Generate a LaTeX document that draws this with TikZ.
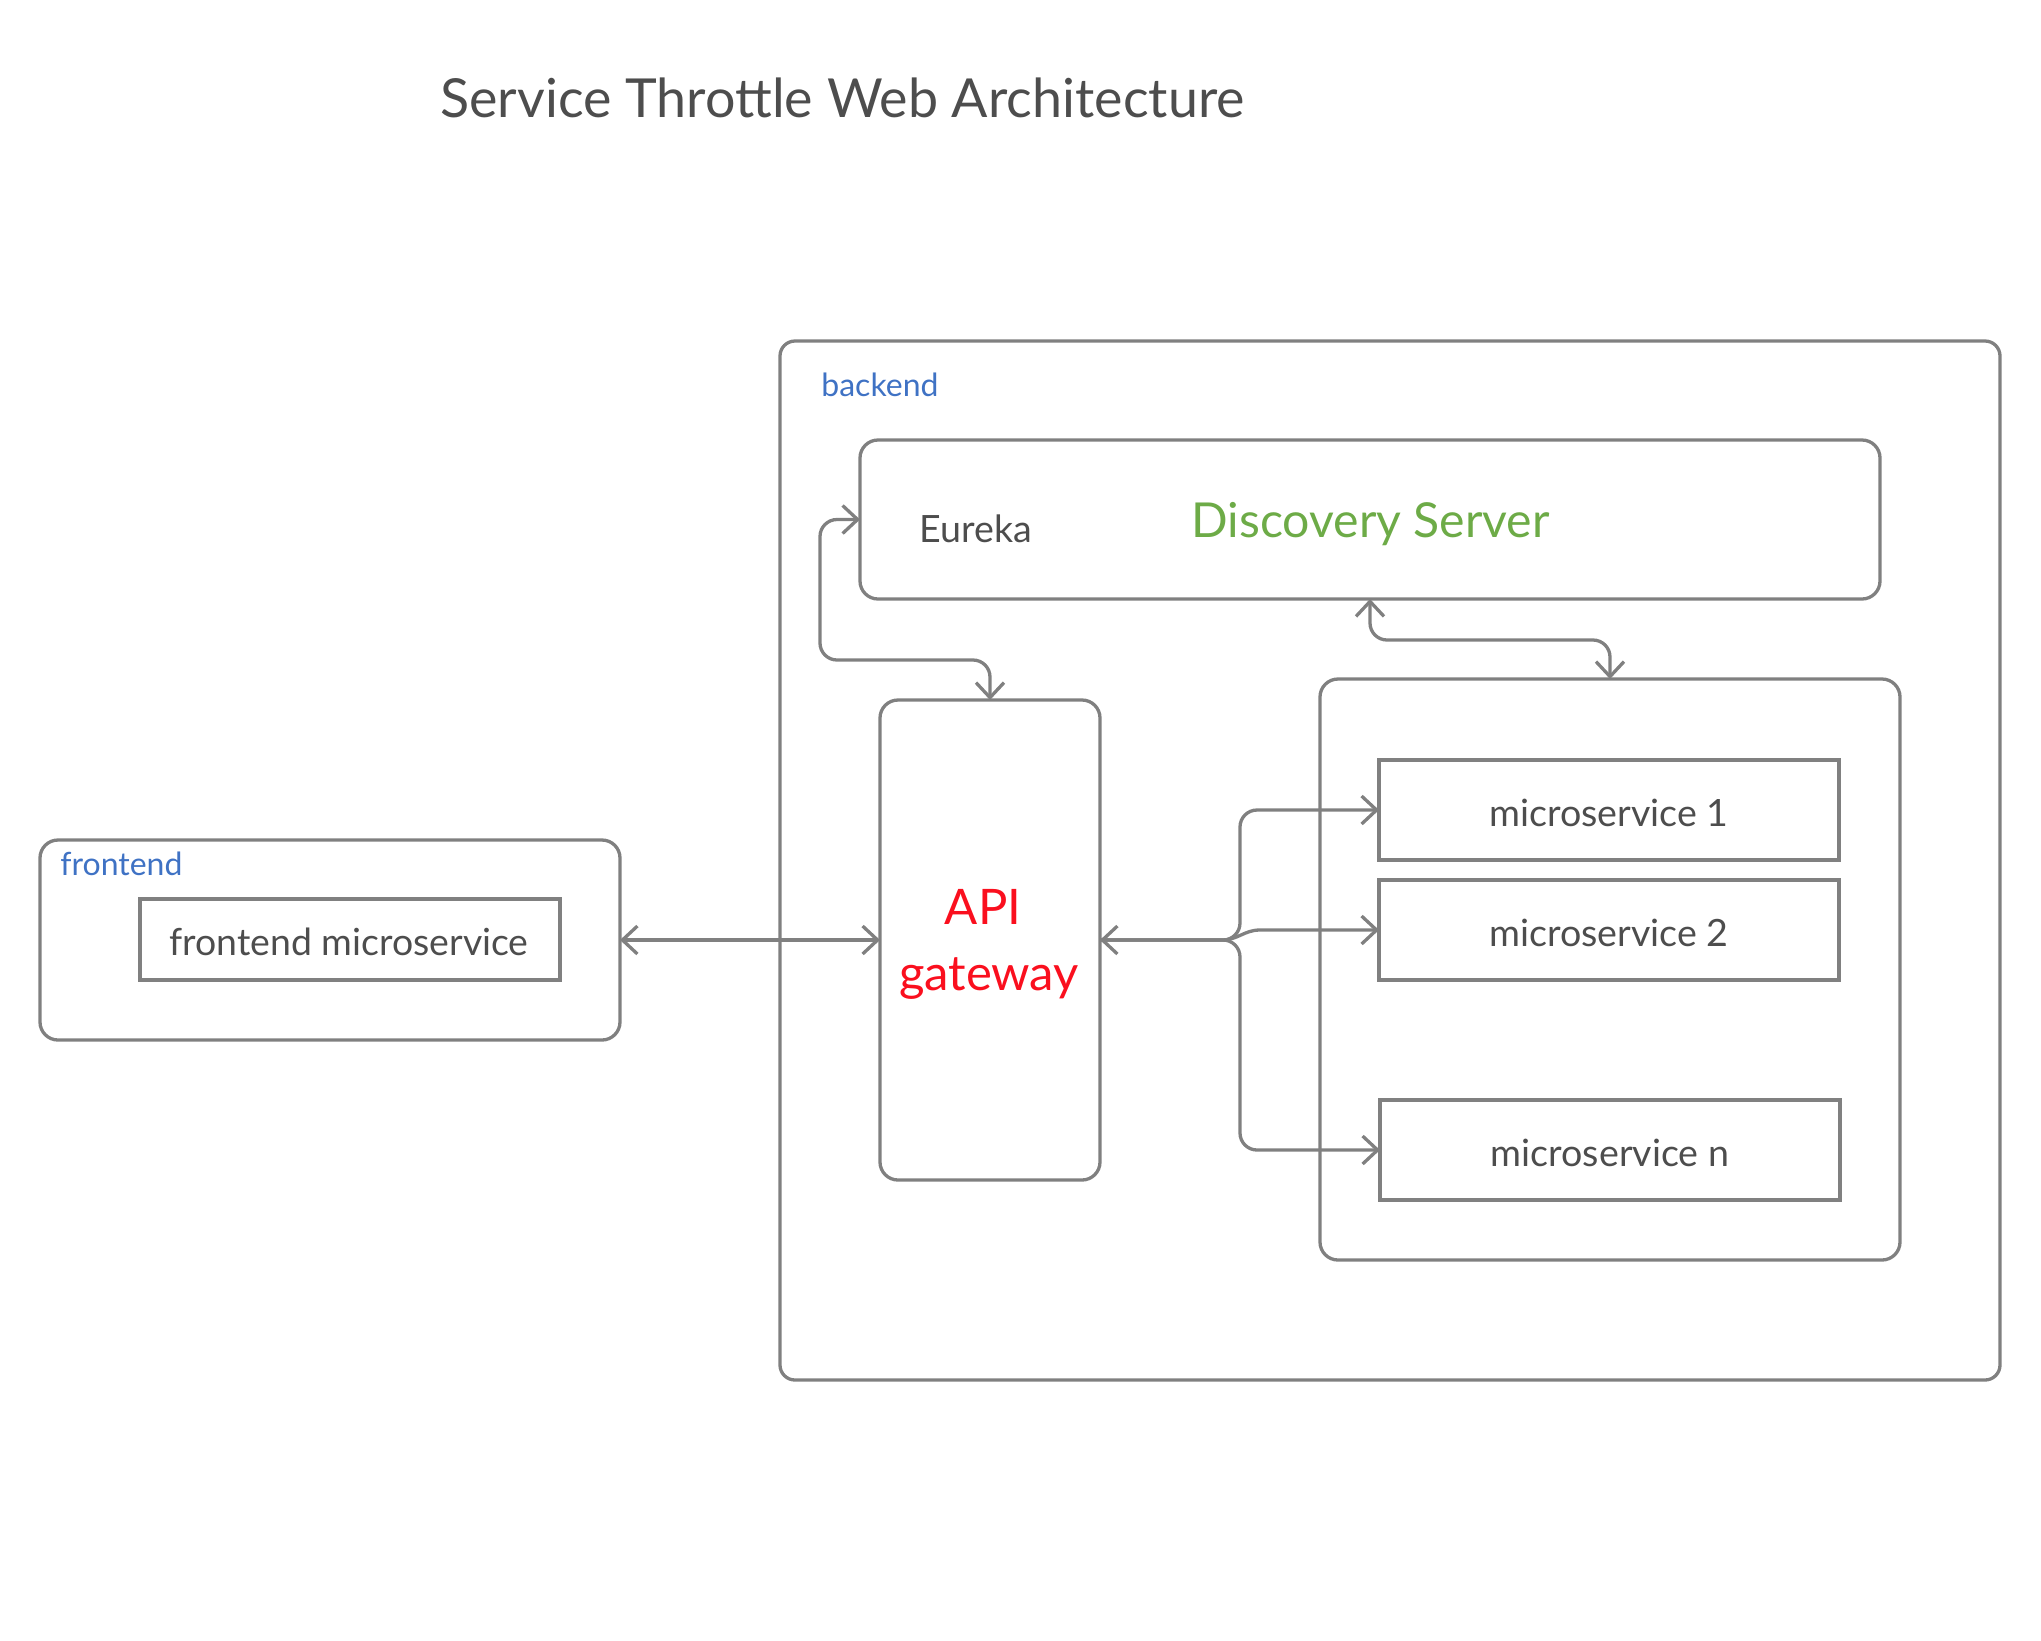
\documentclass[tikz,border=0pt]{standalone}
\usepackage{fontspec}
\setmainfont{Lato}
\usetikzlibrary{arrows.meta,fit}
\definecolor{linegray}{HTML}{808080}
\definecolor{txtgray}{HTML}{4D4D4D}
\definecolor{lblue}{HTML}{3F72C4}
\definecolor{lgreen}{HTML}{6DAB47}
\definecolor{lred}{HTML}{FA0F1E}
\begin{document}
\begin{tikzpicture}[x=0.5pt,y=-0.5pt,
  >={Straight Barb[length=7.5pt,width=14pt]},
  rbox/.style={draw=linegray, line width=1.65pt, rounded corners=9pt, inner sep=0pt, outer sep=0pt},
  sbox/.style={draw=linegray, line width=1.65pt, inner sep=0pt, outer sep=0pt},
  conn/.style={draw=linegray, line width=1.65pt, rounded corners=8.5pt},
  grouplbl/.style={text=lblue, font=\fontsize{16}{19}\selectfont, inner sep=0pt, anchor=base west},
  mstext/.style={text=txtgray, font=\fontsize{18.8}{22}\selectfont, inner sep=0pt, anchor=base},
  gwtext/.style={text=lred, font=\fontsize{24.5}{29}\selectfont, inner sep=0pt, anchor=base}
]
\useasboundingbox (0,0) rectangle (2041,1640);

% title
\node[text=txtgray, font=\fontsize{26.9}{32}\selectfont, inner sep=0pt, anchor=base west] (title) at (440,117) {Service Throttle Web Architecture};

% backend group
\node[rbox, rounded corners=7.5pt, fit={(780,341) (2000,1380)}] (backend) {};
\node[grouplbl] (backendlbl) at (821,396) {backend};

% discovery server
\node[rbox, fit={(860,440) (1880,599)}] (disc) {};
\node[text=txtgray, font=\fontsize{18.8}{22}\selectfont, inner sep=0pt, anchor=base west] (eureka) at (919,542) {Eureka};
\node[text=lgreen, font=\fontsize{24.1}{28}\selectfont, inner sep=0pt, anchor=base west] (dstext) at (1191,537) {Discovery Server};

% API gateway
\node[rbox, fit={(880,700) (1100,1180)}] (gw) {};
\node[gwtext] (gwapi) at (983,924) {API};
\node[gwtext] (gwgate) at (989,990) {gateway};

% microservice container
\node[rbox, fit={(1320,679) (1900,1260)}] (cont) {};
\node[sbox, fit={(1379,760) (1839,860)}] (ms1) {};
\node[mstext] (ms1t) at (1609,826) {microservice 1};
\node[sbox, fit={(1379,880) (1839,980)}] (ms2) {};
\node[mstext] (ms2t) at (1609,946) {microservice 2};
\node[sbox, fit={(1380,1100) (1840,1200)}] (msn) {};
\node[mstext] (msnt) at (1610,1166) {microservice n};

% frontend group
\node[rbox, fit={(40,840) (620,1040)}] (front) {};
\node[grouplbl] (frontlbl) at (60,875) {frontend};
\node[sbox, fit={(140,899) (560,980)}] (fems) {};
\node[mstext, font=\fontsize{18.7}{22}\selectfont] (femst) at (349,955) {frontend microservice};

% bend points
\coordinate (lbend) at (820,660);
\coordinate (cbend) at (1490,640);
\coordinate (bx) at (1240,940);
\coordinate (b2a) at (1222,940);
\coordinate (b2b) at (1260,930);

% connectors
\draw[conn,<->] (disc.west) -| (lbend) -| (gw.north);
\draw[conn,<->] (disc.south) |- (cbend) -| (cont.north);
\draw[conn,<->] (front.east) -- (gw.west);
\draw[conn,<->] (gw.east) -- (bx) |- (ms1.west);
\draw[conn,->] (gw.east) -- (bx) |- (msn.west);
\draw[conn,sharp corners,->] (gw.east) -- (b2a) .. controls (1238,940) and (1244,930) .. (b2b) -- (ms2.west);
\end{tikzpicture}
\end{document}
